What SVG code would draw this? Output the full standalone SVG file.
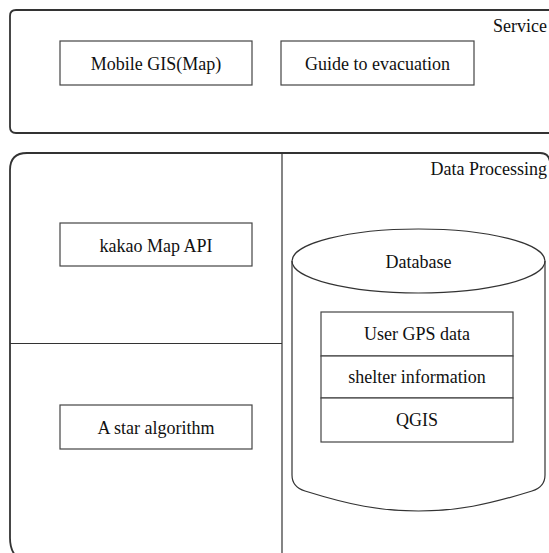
<svg xmlns="http://www.w3.org/2000/svg" width="549" height="553" viewBox="0 0 549 553">
  <style>
    .frame { fill: none; stroke: #333; stroke-width: 1.8; }
    .box { fill: #fff; stroke: #444; stroke-width: 1.2; }
    .line { fill: none; stroke: #333; stroke-width: 1.2; }
    text { font-family: 'Liberation Serif', 'Times New Roman', serif; font-size: 18px; fill: #111; }
    .mid { text-anchor: middle; }
    .end { text-anchor: end; }
  </style>
  <rect width="549" height="553" fill="#fff"/>

  <!-- Service layer -->
  <g id="service">
    <path class="frame" d="M560,10 H16 Q10,10 10,16 V127 Q10,133 16,133 H560"/>
    <text class="end" x="547" y="32" font-family="Liberation Serif">Service</text>
  </g>
  <g id="mobile-gis">
    <rect class="box" x="60" y="41" width="192" height="44"/>
    <text class="mid" x="156" y="70" font-family="Liberation Serif">Mobile GIS(Map)</text>
  </g>
  <g id="guide">
    <rect class="box" x="281" y="41" width="193" height="44"/>
    <text class="mid" x="377.5" y="70" font-family="Liberation Serif">Guide to evacuation</text>
  </g>

  <!-- Data processing layer -->
  <g id="data-processing">
    <path class="frame" d="M16,556 Q10,550 10,538 V170 Q10,153 27,153 H540 Q549,153 550,162 V545"/>
    <line class="line" x1="282" y1="153" x2="282" y2="553"/>
    <line class="line" x1="10" y1="343.5" x2="282" y2="343.5"/>
    <text class="end" x="547" y="175" font-family="Liberation Serif">Data Processing</text>
  </g>
  <g id="kakao">
    <rect class="box" x="60" y="223" width="192" height="43"/>
    <text class="mid" x="156" y="252" font-family="Liberation Serif">kakao Map API</text>
  </g>
  <g id="astar">
    <rect class="box" x="60" y="405" width="192" height="44"/>
    <text class="mid" x="156" y="434" font-family="Liberation Serif">A star algorithm</text>
  </g>

  <!-- Database cylinder -->
  <g id="database">
    <path class="line" d="M292,261 V475 Q292,487 305,491 C350,505 380,511 418.5,511 C457,511 487,505 532,491 Q545,487 545,475 V261"/>
    <ellipse class="line" cx="418.5" cy="261" rx="126.5" ry="32" fill="#fff"/>
    <text class="mid" x="418.5" y="268" font-family="Liberation Serif">Database</text>
  </g>
  <g id="user-gps">
    <rect class="box" x="321" y="312" width="192" height="44"/>
    <text class="mid" x="417" y="340" font-family="Liberation Serif">User GPS data</text>
  </g>
  <g id="shelter">
    <rect class="box" x="321" y="356" width="192" height="42"/>
    <text class="mid" x="417" y="383" font-family="Liberation Serif">shelter information</text>
  </g>
  <g id="qgis">
    <rect class="box" x="321" y="398" width="192" height="44"/>
    <text class="mid" x="417" y="426" font-family="Liberation Serif">QGIS</text>
  </g>
</svg>
